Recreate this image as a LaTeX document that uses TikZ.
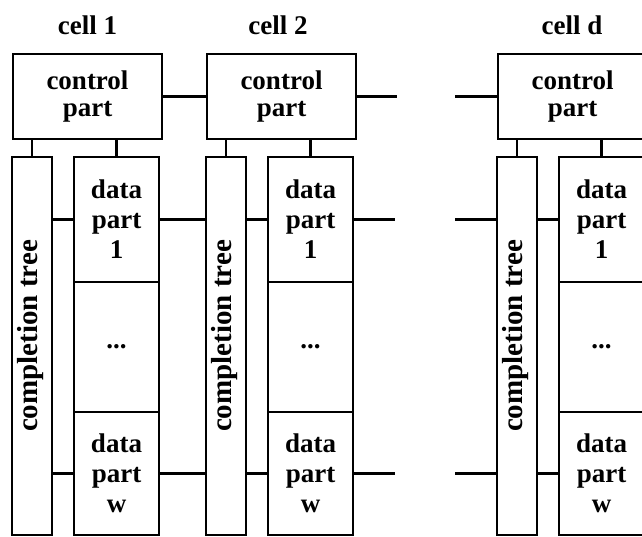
\documentclass[tikz,border=0pt]{standalone}
\usepackage{fontspec}
\setmainfont{Liberation Serif}
\begin{document}
\begin{tikzpicture}[x=1pt,y=-1pt,
  line width=2.8pt,
  box/.style={draw, rectangle, inner sep=0pt, align=center,
    font=\bfseries\fontsize{27}{30}\selectfont},
  ctlbox/.style={box, minimum width=149pt, minimum height=85pt,
    font=\bfseries\fontsize{27}{27}\selectfont},
  treebox/.style={box, minimum width=40pt, minimum height=378pt},
  treetext/.style={rotate=90, font=\bfseries\fontsize{29}{30}\selectfont, inner sep=0pt},
  datbox/.style={box, minimum width=85pt},
  lbl/.style={font=\bfseries\fontsize{27}{30}\selectfont, inner sep=0pt}
]
\useasboundingbox (0,0) rectangle (642,537);
% labels
\node[lbl] (l1) at (87.5,25) {cell 1};
\node[lbl] (l2) at (278,25) {cell 2};
\node[lbl] (ld) at (572,25) {cell d};
% cells
\foreach \ox/\n in {0/1,194/2,485/d}{
  \node[ctlbox] (ctl\n) at (87.5+\ox,96.5) {control\\part};
  \node[treebox] (ct\n) at (32+\ox,346) {};
  \node[treetext] (ctt\n) at (31+\ox,336) {completion tree};
  \node[datbox, minimum height=125pt] (da\n) at (116.5+\ox,219.5) {data\\part\\1};
  \node[datbox, minimum height=130pt] (dd\n) at (116.5+\ox,347) {...};
  \node[datbox, minimum height=123pt] (dw\n) at (116.5+\ox,473.5) {data\\part\\w};
  \draw (ct\n.north) -- (ct\n.north |- ctl\n.south);
  \draw (da\n.north) -- (da\n.north |- ctl\n.south);
  \draw (da\n.west) -- (da\n.west -| ct\n.east);
  \draw (dw\n.west) -- (dw\n.west -| ct\n.east);
}
% links cell 1 -> cell 2
\draw (ctl1.east) -- (ctl2.west);
\draw (da1.east) -- (da1.east -| ct2.west);
\draw (dw1.east) -- (dw1.east -| ct2.west);
% free ends
\coordinate (r1) at (397,96.5);
\coordinate (r2) at (395,219.5);
\coordinate (r3) at (395,473.5);
\coordinate (q1) at (455,96.5);
\coordinate (q2) at (455,219.5);
\coordinate (q3) at (455,473.5);
\draw (ctl2.east) -- (r1);
\draw (da2.east) -- (r2);
\draw (dw2.east) -- (r3);
\draw (q1) -- (ctld.west);
\draw (q2) -- (q2 -| ctd.west);
\draw (q3) -- (q3 -| ctd.west);
\end{tikzpicture}
\end{document}
